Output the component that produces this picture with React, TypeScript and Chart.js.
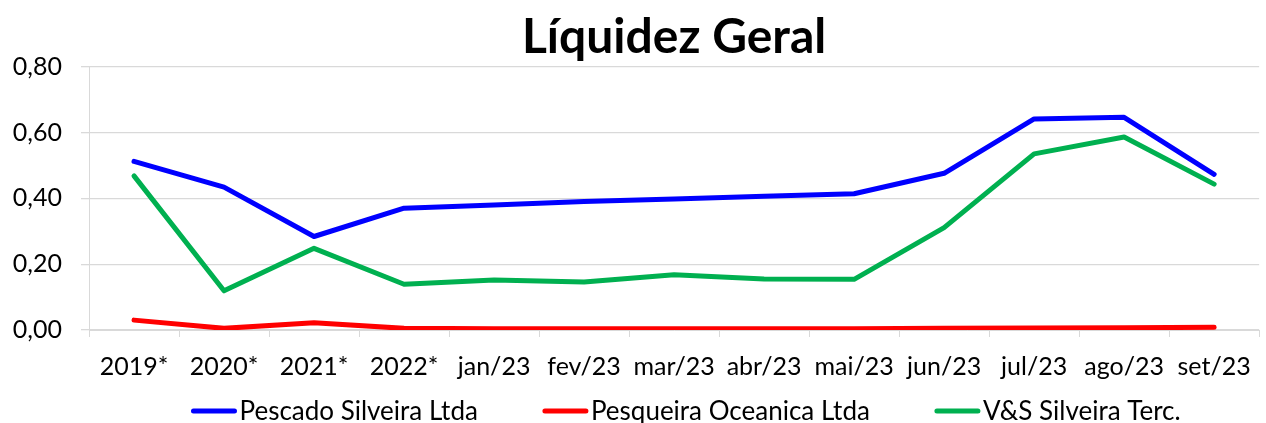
import React, { useEffect, useRef } from 'react';
import { Chart, registerables } from 'chart.js';

Chart.register(...registerables);

const categories = ['2019*', '2020*', '2021*', '2022*', 'jan/23', 'fev/23', 'mar/23', 'abr/23', 'mai/23', 'jun/23', 'jul/23', 'ago/23', 'set/23'];
const pescadoSilveira = [0.512, 0.434, 0.284, 0.37, 0.38, 0.39, 0.398, 0.406, 0.414, 0.476, 0.641, 0.646, 0.473];
const pesqueiraOceanica = [0.03, 0.005, 0.022, 0.005, 0.004, 0.004, 0.004, 0.004, 0.004, 0.005, 0.006, 0.007, 0.008];
const vsSilveira = [0.468, 0.119, 0.248, 0.139, 0.152, 0.146, 0.168, 0.155, 0.154, 0.311, 0.535, 0.586, 0.443];
const seriesNames = ['Pescado Silveira Ltda', 'Pesqueira Oceanica Ltda', 'V&S Silveira Terc.'];
const seriesColors = ['#0000FF', '#FF0000', '#00B050'];
const yMin = 0;
const yMax = 0.8;
const yStep = 0.2;

const FONT = 'Lato';
const TICK_SIZE = 25;
const LEGEND_SIZE = 26;

const bottomLegend = {
  id: 'bottomLegend',
  afterDraw(chart: any) {
    const ctx = chart.ctx as CanvasRenderingContext2D;
    const area = chart.chartArea;
    ctx.save();
    ctx.font = `${LEGEND_SIZE}px ${FONT}`;
    const lineLen = 45;
    const gap = 3;
    const spacing = 65;
    const items = chart.data.datasets.map((ds: any) => ({
      label: ds.label as string,
      color: ds.borderColor as string,
      w: ctx.measureText(ds.label).width,
    }));
    const total = items.reduce((s: number, it: any) => s + lineLen + gap + it.w, 0) + spacing * (items.length - 1);
    let x = (area.left + area.right) / 2 + 12 - total / 2;
    const y = chart.height - 12;
    ctx.textBaseline = 'middle';
    ctx.textAlign = 'left';
    for (const it of items) {
      ctx.strokeStyle = it.color;
      ctx.lineWidth = 5;
      ctx.lineCap = 'round';
      ctx.beginPath();
      ctx.moveTo(x + 2, y);
      ctx.lineTo(x + lineLen - 2, y);
      ctx.stroke();
      ctx.fillStyle = '#000';
      ctx.fillText(it.label, x + lineLen + gap, y + 1);
      x += lineLen + gap + it.w + spacing;
    }
    ctx.restore();
  },
};

export default function App() {
  const canvasRef = useRef<HTMLCanvasElement | null>(null);

  useEffect(() => {
    if (!canvasRef.current) return;
    const mk = (label: string, data: number[], color: string) => ({
      label,
      data,
      borderColor: color,
      backgroundColor: color,
      borderWidth: 5,
      pointRadius: 0,
      pointHoverRadius: 0,
      tension: 0,
      fill: false,
      borderCapStyle: 'round' as const,
      borderJoinStyle: 'round' as const,
    });
    const chart = new Chart(canvasRef.current, {
      type: 'line',
      data: {
        labels: categories,
        datasets: [
          mk(seriesNames[0], pescadoSilveira, seriesColors[0]),
          mk(seriesNames[1], pesqueiraOceanica, seriesColors[1]),
          mk(seriesNames[2], vsSilveira, seriesColors[2]),
        ],
      },
      plugins: [bottomLegend],
      options: {
        animation: false,
        responsive: true,
        maintainAspectRatio: false,
        layout: { padding: { left: 0, right: 1, top: 0, bottom: 26 } },
        plugins: {
          title: {
            display: true,
            text: 'Líquidez Geral',
            color: '#000',
            fullSize: false,
            font: { family: FONT, size: 48, weight: 'bold' },
            padding: { top: 9, bottom: 0 },
          },
          legend: { display: false },
          tooltip: { enabled: false },
        },
        scales: {
          x: {
            offset: true,
            grid: { offset: true, drawOnChartArea: false, drawTicks: true, tickLength: 7, color: '#d9d9d9' },
            border: { color: '#d9d9d9' },
            ticks: {
              color: '#000',
              font: { family: FONT, size: TICK_SIZE },
              autoSkip: false,
              maxRotation: 0,
              padding: 15,
            },
          },
          y: {
            min: yMin,
            max: yMax,
            grid: { color: '#d9d9d9', tickLength: 8, lineWidth: 1.3 },
            border: { color: '#d9d9d9' },
            ticks: {
              stepSize: yStep,
              color: '#000',
              font: { family: FONT, size: TICK_SIZE },
              padding: 19,
              callback: (v: any) => Number(v).toFixed(2).replace('.', ','),
            },
            afterFit: (scale: any) => {
              scale.width = 89;
            },
          },
        },
      },
    });
    return () => chart.destroy();
  }, []);

  return (
    <div style={{ position: 'absolute', left: 0, top: 0, width: 1266, height: 423, background: '#fff' }}>
      <canvas ref={canvasRef} />
    </div>
  );
}
